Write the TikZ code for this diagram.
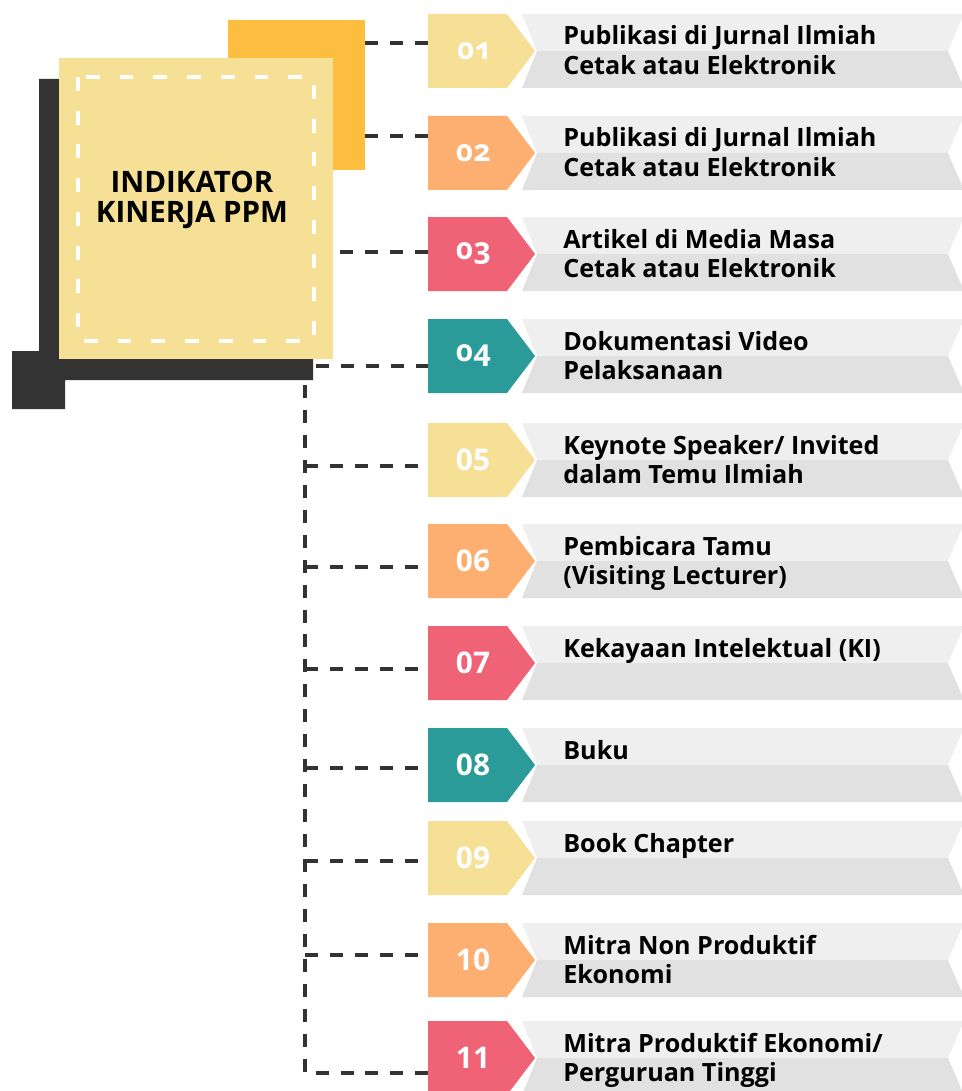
\documentclass[tikz,border=0pt]{standalone}
\usepackage{fontspec}
\setmainfont{Open Sans}
\newfontfamily\oldfig{Open Sans}[Numbers=OldStyle]
\usepackage{tikz}
\usetikzlibrary{calc}
\definecolor{tagyel}{HTML}{F5E096}
\definecolor{tagorg}{HTML}{FDAF72}
\definecolor{tagred}{HTML}{F06275}
\definecolor{tagteal}{HTML}{2A9B98}
\definecolor{sqorange}{HTML}{FDBD3F}
\definecolor{darkx}{HTML}{333333}
\definecolor{bandhi}{HTML}{EFEFEF}
\definecolor{bandlo}{HTML}{E1E1E1}
\newcommand\lines[1]{\begin{tabular}[t]{@{}l@{}}#1\end{tabular}}
\tikzset{
  link/.style={draw=darkx,line width=2.27pt,dash pattern=on 7.4pt off 6.8pt},
  numtxt/.style={text=white,font=\fontsize{17}{17}\bfseries\selectfont,inner sep=0pt},
  lbltxt/.style={font=\fontsize{14.3}{17}\bfseries\selectfont,inner sep=0pt,anchor=base west}
}
\begin{document}
\begin{tikzpicture}[x=0.02cm,y=-0.02cm]
\useasboundingbox (0,0) rectangle (962,1091);
\fill[darkx] (39,79) rectangle (59,380) (39,359) rectangle (313,380) (12,351) rectangle (65,409);
\node[fill=sqorange,minimum width=2.74cm,minimum height=3cm,inner sep=0pt] (back) at (296.5,95) {};
\node[fill=tagyel,minimum width=5.48cm,minimum height=6.02cm,inner sep=0pt] (main) at (196,208.5) {};
\draw[white,line width=2.27pt,dash pattern=on 7.9pt off 11.3pt] (78,77) rectangle (314,341);
\node[font=\fontsize{16.8}{17}\bfseries\selectfont,align=center] (title) at (192,200) {INDIKATOR\\KINERJA PPM};
% rows: number / centre / connector / colour / text
\foreach \n/\y/\c/\col/\num/\txt in {
  1/51/43/tagyel/{\oldfig 01}/{Publikasi di Jurnal Ilmiah\\Cetak atau Elektronik},
  2/153/136/tagorg/{\oldfig 02}/{Publikasi di Jurnal Ilmiah\\Cetak atau Elektronik},
  3/254/252/tagred/{\oldfig 03}/{Artikel di Media Masa\\Cetak atau Elektronik},
  4/356/366/tagteal/{\oldfig 04}/{Dokumentasi Video\\Pelaksanaan},
  5/460/466/tagyel/05/{Keynote Speaker/ Invited\\dalam Temu Ilmiah},
  6/561/567/tagorg/06/{Pembicara Tamu\\(Visiting Lecturer)},
  7/663/669/tagred/07/{Kekayaan Intelektual (KI)},
  8/765/768/tagteal/08/{Buku},
  9/858/861/tagyel/09/{Book Chapter},
  10/960/955/tagorg/10/{Mitra Non Produktif\\Ekonomi},
  11/1058/1073/tagred/11/{Mitra Produktif Ekonomi/\\Perguruan Tinggi}}{
  \fill[bandhi] (522,\y-37) -- (964,\y-37) -- (948,\y) -- (537,\y) -- cycle;
  \fill[bandlo] (537,\y) -- (948,\y) -- (964,\y+37) -- (522,\y+37) -- cycle;
  \fill[\col] (428,\y-37) -- (507,\y-37) -- (535,\y) -- (507,\y+37) -- (428,\y+37) -- cycle;
  \node[numtxt] (num\n) at (473,\y) {\num};
  \node[lbltxt] (lbl\n) at (563,\y-6) {\lines{\txt}};
  \coordinate (in\n) at (428,\c);
}
\draw[link] (back.east |- in1) -- (in1);
\draw[link] (back.east |- in2) -- (in2);
\draw[link,shorten <=4pt] (main.east |- in3) -- (in3);
\coordinate (barend) at (316,370);
\draw[link] (barend |- in4) -- (in4);
\coordinate (trunk) at (305,385);
\draw[link] (trunk) |- (in11);
\foreach \n in {5,...,10} \draw[link] (trunk |- in\n) -- (in\n);
\end{tikzpicture}
\end{document}
